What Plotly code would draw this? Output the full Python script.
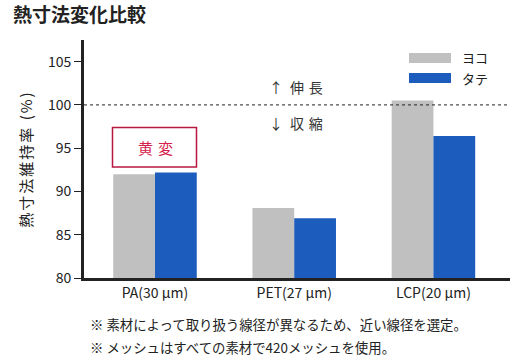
import plotly.graph_objects as go

categories = ["PA(30 µm)", "PET(27 µm)", "LCP(20 µm)"]
yoko = [92.0, 88.1, 100.5]
tate = [92.2, 86.9, 96.4]
series_names = ["ヨコ", "タテ"]
colors = ["#c0c0c0", "#1b5cbd"]
y_ticks = [80, 85, 90, 95, 100, 105]

FONT = "Noto Sans CJK JP"
W, H = 510, 357
X0, X1, Y0, Y1 = 84, 510, 40, 278  # plot area in pixels


def px(x):
    return (x - X0) / (X1 - X0)


def py(y):
    return (Y1 - y) / (Y1 - Y0)


fig = go.Figure()
for name, vals, col in zip(series_names, [yoko, tate], colors):
    fig.add_trace(go.Bar(x=categories, y=vals, name=name, marker=dict(color=col, line=dict(width=0)),
                         showlegend=False, hoverinfo="skip"))

fig.update_layout(
    width=W, height=H,
    margin=dict(l=X0, r=W - X1, t=Y0, b=H - Y1),
    paper_bgcolor="white", plot_bgcolor="white",
    barmode="group", bargap=0.4, bargroupgap=0,
    font=dict(family=FONT, color="#222"),
    xaxis=dict(range=[-0.51, 2.55], showline=True, linecolor="#222", linewidth=3,
               ticks="", tickfont=dict(size=14, color="#222"), showgrid=False, zeroline=False,
               fixedrange=True),
    yaxis=dict(range=[80, 107.5], tickvals=y_ticks, showline=True, linecolor="#222", linewidth=3,
               ticks="outside", ticklen=7, tickwidth=1, tickcolor="#222",
               tickfont=dict(size=14, color="#222"), showgrid=False, zeroline=False,
               fixedrange=True,
               title=dict(text='<span style="letter-spacing:2px">熱寸法維持率 (%)</span>',
                          font=dict(size=15, color="#222"), standoff=12)),
)

# reference line at 100
fig.add_shape(type="line", xref="paper", yref="y", x0=0, x1=1, y0=100, y1=100,
              line=dict(color="#222", width=1, dash="dot"))

# legend swatches
for i, (name, col) in enumerate(zip(series_names, colors)):
    yc = 58 + 20 * i
    fig.add_shape(type="rect", xref="paper", yref="paper", x0=px(409), x1=px(451),
                  y0=py(yc + 5), y1=py(yc - 5), fillcolor=col, line=dict(width=0))
    fig.add_annotation(xref="paper", yref="paper", x=px(460), y=py(yc), text=name,
                       showarrow=False, xanchor="left", yanchor="middle",
                       font=dict(size=13, color="#222"))

# 伸長 / 収縮 labels
fig.add_annotation(xref="paper", yref="paper", x=px(296), y=py(87), text="↑\u2002伸\u2004長",
                   showarrow=False, xanchor="center", yanchor="middle",
                   font=dict(size=14, color="#333"))
fig.add_annotation(xref="paper", yref="paper", x=px(296), y=py(123), text="↓\u2002収\u2004縮",
                   showarrow=False, xanchor="center", yanchor="middle",
                   font=dict(size=14, color="#333"))

# 黄変 box
fig.add_shape(type="rect", xref="paper", yref="paper", x0=px(112.5), x1=px(196.5),
              y0=py(167), y1=py(127.5), fillcolor="white", line=dict(color="#b8173f", width=1.5))
fig.add_annotation(xref="paper", yref="paper", x=px(155), y=py(147), text="黄\u2004変",
                   showarrow=False, xanchor="center", yanchor="middle",
                   font=dict(size=15, color="#d4204a"))

# title
fig.add_annotation(xref="paper", yref="paper", x=px(11), y=py(14), text="<b>熱寸法変化比較</b>",
                   showarrow=False, xanchor="left", yanchor="middle",
                   font=dict(size=19, color="#222"))

# notes
notes = ["※ 素材によって取り扱う線径が異なるため、近い線径を選定。",
         "※ メッシュはすべての素材で420メッシュを使用。"]
for i, t in enumerate(notes):
    fig.add_annotation(xref="paper", yref="paper", x=px(88), y=py(324 + 23 * i), text=t,
                       showarrow=False, xanchor="left", yanchor="middle",
                       font=dict(size=13.4, color="#222"))

fig.write_html("out.html", config={"displayModeBar": False, "staticPlot": True},
               post_script="document.body.style.margin='0';document.body.style.overflow='hidden';")
